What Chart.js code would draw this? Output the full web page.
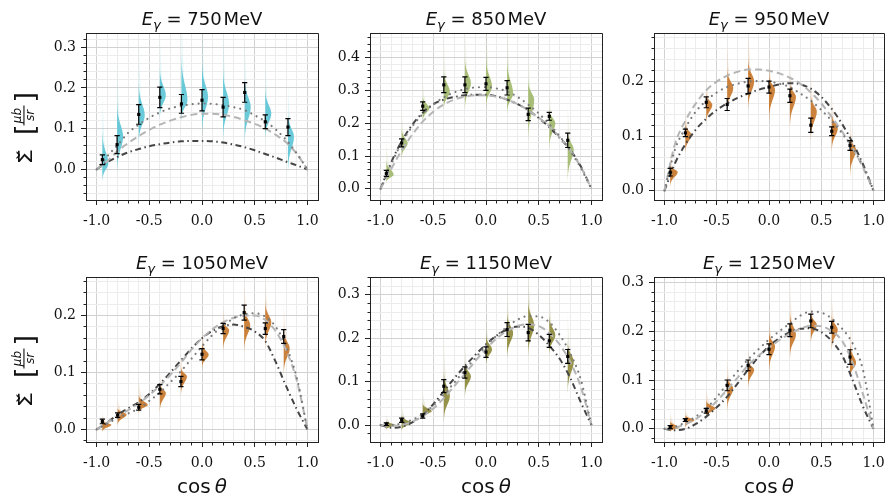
<!DOCTYPE html>
<html>
<head>
<meta charset="utf-8">
<title>Beam asymmetry</title>
<script src="https://cdn.jsdelivr.net/npm/chart.js"></script>
<style>
  html, body { margin: 0; padding: 0; background: #fff; }
  #wrap { position: relative; width: 888px; height: 498px; }
  #wrap canvas { position: absolute; left: 0; top: 0; }
</style>
</head>
<body>
<div id="wrap">
  <canvas id="c750" width="888" height="498"></canvas>
  <canvas id="c850" width="888" height="498"></canvas>
  <canvas id="c950" width="888" height="498"></canvas>
  <canvas id="c1050" width="888" height="498"></canvas>
  <canvas id="c1150" width="888" height="498"></canvas>
  <canvas id="c1250" width="888" height="498"></canvas>
</div>
<script>
// ---- data ----
const energies = [750, 850, 950, 1050, 1150, 1250];
const cosTheta = [-0.945, -0.8, -0.6, -0.4, -0.2, 0.0, 0.2, 0.4, 0.6, 0.775];
const cosTheta750 = [-0.945, -0.805, -0.6, -0.4, -0.195, 0.0, 0.2, 0.405, 0.6, 0.815];

const sigma750 = [0.024, 0.061, 0.135, 0.177, 0.161, 0.170, 0.153, 0.189, 0.117, 0.104];
const err750 = [0.012, 0.022, 0.024, 0.025, 0.023, 0.026, 0.024, 0.024, 0.017, 0.021];
const sigma850 = [0.047, 0.140, 0.252, 0.317, 0.317, 0.320, 0.308, 0.227, 0.221, 0.148];
const err850 = [0.009, 0.012, 0.013, 0.024, 0.024, 0.020, 0.022, 0.019, 0.012, 0.022];
const sigma950 = [0.034, 0.106, 0.162, 0.158, 0.192, 0.190, 0.174, 0.120, 0.109, 0.083];
const err950 = [0.007, 0.007, 0.010, 0.011, 0.014, 0.011, 0.012, 0.013, 0.008, 0.009];
const sigma1050 = [0.014, 0.025, 0.039, 0.0705, 0.084, 0.132, 0.177, 0.205, 0.177, 0.163];
const err1050 = [0.004, 0.004, 0.005, 0.008, 0.009, 0.010, 0.009, 0.013, 0.010, 0.012];
const sigma1150 = [0.002, 0.011, 0.021, 0.0895, 0.121, 0.168, 0.220, 0.213, 0.194, 0.158];
const err1150 = [0.003, 0.005, 0.005, 0.015, 0.013, 0.012, 0.016, 0.019, 0.015, 0.016];
const sigma1250 = [0.0034, 0.018, 0.037, 0.089, 0.130, 0.163, 0.202, 0.221, 0.208, 0.147];
const err1250 = [0.003, 0.003, 0.005, 0.011, 0.011, 0.011, 0.013, 0.014, 0.012, 0.015];

// posterior violins: lower edge, mode, upper edge
const vLo750 = [-0.014, 0.023, 0.088, 0.145, 0.137, 0.120, 0.104, 0.096, 0.096, 0.023];
const vPeak750 = [0.015, 0.080, 0.133, 0.182, 0.170, 0.178, 0.161, 0.153, 0.137, 0.080];
const vHi750 = [0.068, 0.137, 0.186, 0.227, 0.243, 0.235, 0.218, 0.200, 0.178, 0.120];
const vLo850 = [0.027, 0.109, 0.220, 0.261, 0.271, 0.271, 0.251, 0.190, 0.149, 0.058];
const vPeak850 = [0.043, 0.139, 0.246, 0.296, 0.322, 0.312, 0.291, 0.271, 0.200, 0.119];
const vHi850 = [0.073, 0.170, 0.271, 0.342, 0.373, 0.373, 0.362, 0.312, 0.230, 0.159];
const vLo950 = [0.017, 0.081, 0.136, 0.160, 0.166, 0.148, 0.136, 0.111, 0.087, 0.044];
const vPeak950 = [0.034, 0.102, 0.157, 0.188, 0.200, 0.185, 0.172, 0.145, 0.114, 0.075];
const vHi950 = [0.044, 0.117, 0.172, 0.212, 0.228, 0.203, 0.190, 0.166, 0.133, 0.093];
const vLo1050 = [0.000, 0.014, 0.034, 0.043, 0.072, 0.116, 0.151, 0.153, 0.159, 0.113];
const vPeak1050 = [0.008, 0.026, 0.043, 0.064, 0.093, 0.131, 0.174, 0.183, 0.188, 0.142];
const vHi1050 = [0.014, 0.034, 0.055, 0.075, 0.104, 0.145, 0.186, 0.206, 0.212, 0.165];
const vLo1150 = [-0.004, -0.006, 0.021, 0.028, 0.082, 0.151, 0.174, 0.184, 0.177, 0.100];
const vPeak1150 = [0.000, 0.005, 0.032, 0.067, 0.112, 0.174, 0.212, 0.230, 0.207, 0.146];
const vHi1150 = [0.006, 0.017, 0.044, 0.105, 0.135, 0.197, 0.243, 0.269, 0.238, 0.177];
const vLo1250 = [-0.002, 0.008, 0.029, 0.053, 0.097, 0.135, 0.162, 0.189, 0.176, 0.114];
const vPeak1250 = [0.003, 0.018, 0.042, 0.083, 0.121, 0.169, 0.193, 0.213, 0.203, 0.135];
const vHi1250 = [0.012, 0.025, 0.053, 0.100, 0.135, 0.189, 0.224, 0.230, 0.224, 0.162];

// model curves
const curveX = [-1.0, -0.9, -0.8, -0.7, -0.6, -0.5, -0.4, -0.3, -0.2, -0.1, 0.0, 0.1, 0.2, 0.3, 0.4, 0.5, 0.6, 0.7, 0.8, 0.9, 1.0];
const dotted750 = [0, 0.032, 0.060, 0.090, 0.110, 0.127, 0.140, 0.150, 0.156, 0.160, 0.162, 0.161, 0.158, 0.153, 0.146, 0.133, 0.118, 0.098, 0.072, 0.039, 0];
const dashed750 = [0, 0.020, 0.045, 0.065, 0.082, 0.097, 0.110, 0.120, 0.128, 0.134, 0.137, 0.137, 0.134, 0.129, 0.121, 0.112, 0.100, 0.085, 0.066, 0.038, 0];
const dashDot750 = [0, 0.018, 0.031, 0.042, 0.050, 0.057, 0.062, 0.066, 0.069, 0.070, 0.070, 0.069, 0.066, 0.061, 0.055, 0.047, 0.038, 0.029, 0.019, 0.010, 0];
const dotted850 = [0, 0.075, 0.140, 0.190, 0.228, 0.257, 0.279, 0.294, 0.304, 0.309, 0.310, 0.306, 0.297, 0.280, 0.257, 0.230, 0.197, 0.160, 0.115, 0.063, 0];
const dashed850 = [0, 0.060, 0.117, 0.165, 0.205, 0.235, 0.257, 0.272, 0.281, 0.285, 0.285, 0.281, 0.272, 0.258, 0.240, 0.217, 0.190, 0.157, 0.117, 0.066, 0];
const dashDot850 = [0, 0.080, 0.145, 0.195, 0.232, 0.258, 0.272, 0.280, 0.285, 0.287, 0.287, 0.282, 0.272, 0.258, 0.240, 0.216, 0.188, 0.155, 0.118, 0.068, 0];
const dotted950 = [0, 0.075, 0.115, 0.145, 0.165, 0.180, 0.190, 0.196, 0.200, 0.201, 0.200, 0.196, 0.190, 0.178, 0.165, 0.148, 0.128, 0.105, 0.078, 0.045, 0];
const dashed950 = [0, 0.085, 0.128, 0.160, 0.184, 0.200, 0.211, 0.218, 0.222, 0.222, 0.220, 0.215, 0.207, 0.196, 0.180, 0.160, 0.135, 0.108, 0.078, 0.042, 0];
const dashDot950 = [0, 0.050, 0.085, 0.112, 0.132, 0.148, 0.160, 0.170, 0.178, 0.185, 0.190, 0.195, 0.197, 0.195, 0.187, 0.172, 0.150, 0.122, 0.088, 0.048, 0];
const dotted1050 = [0, 0.010, 0.020, 0.028, 0.037, 0.050, 0.065, 0.083, 0.102, 0.124, 0.146, 0.166, 0.182, 0.195, 0.202, 0.204, 0.198, 0.180, 0.145, 0.090, 0];
const dashed1050 = [0, 0.012, 0.024, 0.034, 0.046, 0.060, 0.077, 0.096, 0.117, 0.140, 0.160, 0.176, 0.188, 0.196, 0.200, 0.200, 0.192, 0.172, 0.138, 0.085, 0];
const dashDot1050 = [0, 0.012, 0.026, 0.037, 0.048, 0.062, 0.080, 0.100, 0.121, 0.142, 0.160, 0.173, 0.181, 0.184, 0.180, 0.172, 0.155, 0.118, 0.075, 0.035, 0];
const dotted1150 = [0, 0.000, 0.004, 0.012, 0.025, 0.045, 0.070, 0.098, 0.127, 0.155, 0.182, 0.206, 0.226, 0.243, 0.251, 0.250, 0.237, 0.207, 0.165, 0.104, 0];
const dashed1150 = [0, -0.002, 0.000, 0.008, 0.020, 0.038, 0.062, 0.090, 0.118, 0.148, 0.175, 0.199, 0.217, 0.228, 0.232, 0.228, 0.212, 0.185, 0.145, 0.087, 0];
const dashDot1150 = [0, -0.006, -0.004, 0.006, 0.023, 0.048, 0.078, 0.108, 0.136, 0.162, 0.186, 0.206, 0.220, 0.227, 0.224, 0.208, 0.183, 0.152, 0.108, 0.052, 0];
const dotted1250 = [0, 0.004, 0.013, 0.025, 0.042, 0.065, 0.092, 0.118, 0.142, 0.163, 0.183, 0.200, 0.216, 0.232, 0.240, 0.238, 0.226, 0.205, 0.175, 0.120, 0];
const dashed1250 = [0, 0.002, 0.010, 0.020, 0.036, 0.057, 0.080, 0.105, 0.130, 0.150, 0.166, 0.182, 0.195, 0.205, 0.211, 0.210, 0.200, 0.180, 0.135, 0.070, 0];
const dashDot1250 = [0, -0.003, 0.000, 0.010, 0.025, 0.044, 0.066, 0.093, 0.121, 0.147, 0.169, 0.186, 0.198, 0.205, 0.206, 0.198, 0.180, 0.150, 0.100, 0.045, 0];

// axis ranges
const yMin = [-0.075, -0.034, -0.017, -0.022, -0.039, -0.027];
const yMax = [0.335, 0.475, 0.289, 0.2675, 0.341, 0.311];
const xMajorStep = 0.5, xMinorStep = 0.1, yMajorStep = 0.1, yMinorStep = 0.02;

const violinColors = ['#5ec6d6', '#a2b96c', '#c8782c', '#c8782c', '#8e8a3c', '#c8782c'];

// ---- layout ----
const colLeft = [86, 370, 654];
const BOX_W = 232;
const rowTop = [33, 277];
const rowBottom = [200, 442];
const Y_W = 40, X_H = 30;
const SPINE = '#222', MAJOR = '#d2d2d2', MINOR = '#ececec';

const panels = [
  {xs: cosTheta750, y: sigma750, err: err750, lo: vLo750, peak: vPeak750, hi: vHi750, curves: [dotted750, dashed750, dashDot750]},
  {xs: cosTheta, y: sigma850, err: err850, lo: vLo850, peak: vPeak850, hi: vHi850, curves: [dotted850, dashed850, dashDot850]},
  {xs: cosTheta, y: sigma950, err: err950, lo: vLo950, peak: vPeak950, hi: vHi950, curves: [dotted950, dashed950, dashDot950]},
  {xs: cosTheta, y: sigma1050, err: err1050, lo: vLo1050, peak: vPeak1050, hi: vHi1050, curves: [dotted1050, dashed1050, dashDot1050]},
  {xs: cosTheta, y: sigma1150, err: err1150, lo: vLo1150, peak: vPeak1150, hi: vHi1150, curves: [dotted1150, dashed1150, dashDot1150]},
  {xs: cosTheta, y: sigma1250, err: err1250, lo: vLo1250, peak: vPeak1250, hi: vHi1250, curves: [dotted1250, dashed1250, dashDot1250]}
];
const panelById = {};
panels.forEach((p, k) => {
  p.energy = energies[k];
  p.col = k % 3;
  p.row = Math.floor(k / 3);
  p.color = violinColors[k];
  p.yMin = yMin[k];
  p.yMax = yMax[k];
  panelById['c' + energies[k]] = p;
});

function tickValues(min, max, step) {
  const out = [];
  const k0 = Math.ceil(min / step - 1e-9), k1 = Math.floor(max / step + 1e-9);
  for (let k = k0; k <= k1; k++) out.push(Math.round(k * step * 1e6) / 1e6);
  return out;
}
const isMultiple = (v, step) => Math.abs(v / step - Math.round(v / step)) < 1e-6;

// half violins, drawn behind everything else
function halfViolin(ctx, px, py, sUp, sDn, w) {
  ctx.beginPath();
  ctx.moveTo(px, py - 3 * sUp);
  for (let k = -30; k <= 30; k++) {
    const t = k / 10;
    const yy = py + (t < 0 ? t * sUp : t * sDn);
    ctx.lineTo(px + w * Math.exp(-0.5 * t * t), yy);
  }
  ctx.lineTo(px, py + 3 * sDn);
  ctx.closePath();
  ctx.fill();
}
const violinPlugin = {
  id: 'violins',
  beforeDatasetsDraw(chart) {
    const p = panelById[chart.canvas.id];
    const {ctx, chartArea: a} = chart;
    const xs = chart.scales.x, ys = chart.scales.y;
    ctx.save();
    ctx.beginPath();
    ctx.rect(a.left, a.top, a.right - a.left, a.bottom - a.top);
    ctx.clip();
    ctx.fillStyle = p.color;
    for (let i = 0; i < p.xs.length; i++) {
      const px = xs.getPixelForValue(p.xs[i]);
      const pPeak = ys.getPixelForValue(p.peak[i]);
      const pHi = ys.getPixelForValue(p.hi[i]);
      const pLo = ys.getPixelForValue(p.lo[i]);
      const sUp = Math.max((pPeak - pHi) / 2, 1.5);
      const sDn = Math.max((pLo - pPeak) / 2, 1.5);
      const w = Math.min(9, Math.max(6, 110 / Math.max(pLo - pHi, 1)));
      ctx.globalAlpha = 0.16;
      halfViolin(ctx, px, pPeak, sUp * 2.8, sDn * 1.3, w * 0.45);
      ctx.globalAlpha = 0.92;
      halfViolin(ctx, px, pPeak, sUp, sDn, w);
    }
    ctx.restore();
  }
};

const errorBarPlugin = {
  id: 'errorBars',
  afterDatasetsDraw(chart) {
    const p = panelById[chart.canvas.id];
    const {ctx} = chart;
    const xs = chart.scales.x, ys = chart.scales.y;
    ctx.save();
    ctx.strokeStyle = '#000';
    ctx.lineWidth = 1.2;
    for (let i = 0; i < p.xs.length; i++) {
      const px = xs.getPixelForValue(p.xs[i]);
      const top = ys.getPixelForValue(p.y[i] + p.err[i]);
      const bot = ys.getPixelForValue(p.y[i] - p.err[i]);
      ctx.beginPath();
      ctx.moveTo(px, top); ctx.lineTo(px, bot);
      ctx.moveTo(px - 2.6, top); ctx.lineTo(px + 2.6, top);
      ctx.moveTo(px - 2.6, bot); ctx.lineTo(px + 2.6, bot);
      ctx.stroke();
    }
    ctx.restore();
  }
};

function drawTitle(ctx, cx, base, energy) {
  const parts = [
    ['E', 'italic 18px "DejaVu Sans"', 0],
    ['\u03b3', 'italic 13px "DejaVu Sans"', 4],
    [' = ', '18px "DejaVu Sans"', 0],
    [String(energy), '18px "DejaVu Sans"', 0],
    ['\u200aMeV', '18px "DejaVu Sans"', 0]
  ];
  let w = 0;
  for (const [t, f] of parts) { ctx.font = f; w += ctx.measureText(t).width; }
  let x = cx - w / 2;
  ctx.fillStyle = '#111';
  ctx.textAlign = 'left';
  ctx.textBaseline = 'alphabetic';
  for (const [t, f, dy] of parts) {
    ctx.font = f;
    ctx.fillText(t, x, base + dy);
    x += ctx.measureText(t).width;
  }
}

function drawXLabel(ctx, cx, base) {
  ctx.font = '20px "DejaVu Sans"';
  const w1 = ctx.measureText('cos\u2009').width;
  ctx.font = 'italic 20px "DejaVu Sans"';
  const w2 = ctx.measureText('\u03b8').width;
  let x = cx - (w1 + w2) / 2;
  ctx.fillStyle = '#111';
  ctx.textAlign = 'left';
  ctx.textBaseline = 'alphabetic';
  ctx.font = '20px "DejaVu Sans"';
  ctx.fillText('cos\u2009', x, base);
  ctx.font = 'italic 20px "DejaVu Sans"';
  ctx.fillText('\u03b8', x + w1, base);
}

function drawYLabel(ctx, bx, cy) {
  ctx.save();
  ctx.translate(bx, cy);
  ctx.rotate(-Math.PI / 2);
  ctx.fillStyle = '#111';
  ctx.textBaseline = 'alphabetic';
  ctx.textAlign = 'left';
  // sigma with caron, a little wider than the plain glyph
  ctx.save();
  ctx.translate(-35, 8);
  ctx.scale(1.3, 1);
  ctx.font = '19px "DejaVu Sans"';
  ctx.fillText('\u03a3\u030c', 0, 0);
  ctx.restore();
  ctx.font = '27px "DejaVu Sans"';
  ctx.fillText('[', -5.5, 9.5);
  ctx.fillText(']', 27, 9.5);
  ctx.font = 'italic 12px "DejaVu Sans"';
  ctx.textAlign = 'center';
  ctx.fillText('\u03bcb', 14, -3);
  ctx.fillText('sr', 14, 10);
  ctx.fillRect(4, -0.6, 20, 1.1);
  ctx.restore();
}

const decorPlugin = {
  id: 'decor',
  afterDraw(chart) {
    const p = panelById[chart.canvas.id];
    const {ctx, chartArea: a} = chart;
    ctx.save();
    ctx.strokeStyle = SPINE;
    ctx.lineWidth = 1;
    ctx.beginPath();
    ctx.moveTo(a.left, a.top + 0.5);
    ctx.lineTo(a.right + 0.5, a.top + 0.5);
    ctx.lineTo(a.right + 0.5, a.bottom + 1);
    ctx.stroke();
    drawTitle(ctx, (a.left + a.right) / 2, a.top - 8.5, p.energy);
    if (p.col === 0) drawYLabel(ctx, 24, (a.top + a.bottom) / 2 + 13);
    if (p.row === 1) drawXLabel(ctx, (a.left + a.right) / 2, a.bottom + 51);
    ctx.restore();
  }
};

Chart.defaults.font.family = '"DejaVu Serif", serif';
Chart.defaults.color = '#111';

function curveDataset(label, ys, color, width, dash, cap) {
  return {
    label: label,
    data: curveX.map((x, i) => ({x: x, y: ys[i]})),
    showLine: true,
    pointRadius: 0,
    borderColor: color,
    borderWidth: width,
    borderDash: dash,
    borderCapStyle: cap,
    cubicInterpolationMode: 'monotone',
    fill: false
  };
}

panels.forEach(p => {
  const left = colLeft[p.col], right = left + BOX_W;
  const top = rowTop[p.row], bottom = rowBottom[p.row];
  new Chart(document.getElementById('c' + p.energy), {
    type: 'scatter',
    data: {
      datasets: [
        {
          label: 'data',
          data: p.xs.map((x, i) => ({x: x, y: p.y[i]})),
          pointStyle: 'rect',
          pointRadius: 2.2,
          backgroundColor: '#000',
          borderWidth: 0,
          showLine: false
        },
        curveDataset('dotted', p.curves[0], '#7a7a7a', 2.2, [0.01, 6], 'round'),
        curveDataset('dashed', p.curves[1], '#b5b5b5', 2, [7, 4], 'butt'),
        curveDataset('dashdot', p.curves[2], '#454545', 2, [6, 3.5, 1.5, 3.5], 'butt')
      ]
    },
    options: {
      responsive: false,
      animation: false,
      devicePixelRatio: 1,
      events: [],
      layout: {
        padding: {left: left - Y_W, right: 888 - right, top: top, bottom: 498 - bottom - X_H}
      },
      plugins: {legend: {display: false}, tooltip: {enabled: false}},
      scales: {
        x: {
          type: 'linear',
          min: -1.1,
          max: 1.1,
          afterBuildTicks: s => { s.ticks = tickValues(-1, 1, xMinorStep).map(v => ({value: v})); },
          afterFit: s => { s.height = X_H; s.paddingLeft = 0; s.paddingRight = 0; },
          ticks: {
            autoSkip: false,
            maxRotation: 0,
            padding: 7.5,
            font: {size: 14},
            color: '#111',
            callback: v => isMultiple(v, xMajorStep) ? v.toFixed(1) : ''
          },
          grid: {
            color: c => (!c.tick || isMultiple(c.tick.value, xMajorStep)) ? MAJOR : MINOR,
            lineWidth: 1,
            tickLength: 5,
            tickColor: SPINE,
            tickBorderDash: c => (!c.tick || isMultiple(c.tick.value, xMajorStep)) ? [] : [2.5, 10]
          },
          border: {color: SPINE, width: 1}
        },
        y: {
          type: 'linear',
          min: p.yMin,
          max: p.yMax,
          afterBuildTicks: s => { s.ticks = tickValues(p.yMin, p.yMax, yMinorStep).map(v => ({value: v})); },
          afterFit: s => { s.width = Y_W; s.paddingTop = 0; s.paddingBottom = 0; },
          ticks: {
            autoSkip: false,
            padding: 5,
            font: {size: 14},
            color: '#111',
            callback: v => isMultiple(v, yMajorStep) ? v.toFixed(1) : ''
          },
          grid: {
            color: c => (!c.tick || isMultiple(c.tick.value, yMajorStep)) ? MAJOR : MINOR,
            lineWidth: 1,
            tickLength: 5,
            tickColor: SPINE,
            tickBorderDash: c => (!c.tick || isMultiple(c.tick.value, yMajorStep)) ? [] : [0, 2.5, 2.5, 10]
          },
          border: {color: SPINE, width: 1}
        }
      }
    },
    plugins: [violinPlugin, errorBarPlugin, decorPlugin]
  });
});
</script>
</body>
</html>
